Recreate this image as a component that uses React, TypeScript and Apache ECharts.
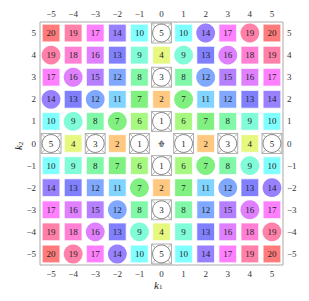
import React, { useEffect, useRef } from "react";
import * as echarts from "echarts";

const k1Values = [-5, -4, -3, -2, -1, 0, 1, 2, 3, 4, 5];
const k2Values = [5, 4, 3, 2, 1, 0, -1, -2, -3, -4, -5];
const tickValues = [-5, -4, -3, -2, -1, 0, 1, 2, 3, 4, 5];

// rows from k2 = 5 down to k2 = -5, columns k1 = -5 .. 5
const cellValues = [
  [20, 19, 17, 14, 10, 5, 10, 14, 17, 19, 20],
  [19, 18, 16, 13, 9, 4, 9, 13, 16, 18, 19],
  [17, 16, 15, 12, 8, 3, 8, 12, 15, 16, 17],
  [14, 13, 12, 11, 7, 2, 7, 11, 12, 13, 14],
  [10, 9, 8, 7, 6, 1, 6, 7, 8, 9, 10],
  [5, 4, 3, 2, 1, 0, 1, 2, 3, 4, 5],
  [10, 9, 8, 7, 6, 1, 6, 7, 8, 9, 10],
  [14, 13, 12, 11, 7, 2, 7, 11, 12, 13, 14],
  [17, 16, 15, 12, 8, 3, 8, 12, 15, 16, 17],
  [19, 18, 16, 13, 9, 4, 9, 13, 16, 18, 19],
  [20, 19, 17, 14, 10, 5, 10, 14, 17, 19, 20],
];

// S = square, C = circle, B = circle in box, N = none
const cellShapes = [
  "SSSSSBSCSCS",
  "CSSSSSCSCSS",
  "SCSSSBSCSSS",
  "CSCSSSCSSSS",
  "SCSCSBSSSSS",
  "BSBSBNBSBSB",
  "SSSSSBSCSCS",
  "SSSSCSSSCSC",
  "SSSCSBSSSCS",
  "SSCSCSSSSSC",
  "SCSCSBSSSSS",
];

// colour for each value 0..20
const valueColors = [
  "#ffffff", "#ffffff", "#ffc880", "#ffffff", "#e6f880", "#ffffff",
  "#a6f880", "#80f080", "#80f8a8", "#80fcd8", "#80ffff",
  "#80d4ff", "#80a8ff", "#8080ff", "#9880ff", "#b480ff",
  "#e080ff", "#ff80ff", "#ff80d4", "#ff80a8", "#ff7a7a",
];

const SERIF = "'Liberation Serif', 'DejaVu Serif', serif";

const fmt = (v: number) => (v < 0 ? "\u2212" + -v : String(v));

export default function App() {
  const ref = useRef<HTMLDivElement>(null);
  useEffect(() => {
    if (!ref.current) return;
    const chart = echarts.init(ref.current, undefined, { renderer: "svg" });
    const data: any[] = [];
    k2Values.forEach((k2, r) => {
      k1Values.forEach((k1, c) => {
        data.push([k1, k2, cellValues[r][c], cellShapes[r][c]]);
      });
    });

    const axisBase = {
      type: "value" as const,
      min: -5.5,
      max: 5.5,
      splitLine: { show: false },
      axisLine: { show: false },
    };
    const labelStyle = {
      fontFamily: SERIF,
      fontSize: 9,
      color: "#333",
      formatter: (v: number) => fmt(v),
      customValues: tickValues,
    };
    const outTick = { show: true, length: 3, lineStyle: { color: "#999", width: 0.8 }, customValues: tickValues };
    const inTick = { show: true, inside: true, length: 3, lineStyle: { color: "#999", width: 0.8 }, customValues: tickValues };

    const xAxes = [
      { ...axisBase, position: "bottom", axisTick: outTick, axisLabel: { ...labelStyle, margin: 4 } },
      { ...axisBase, position: "top", axisTick: outTick, axisLabel: { ...labelStyle, margin: 4 } },
      { ...axisBase, position: "bottom", axisTick: inTick, axisLabel: { show: false } },
      { ...axisBase, position: "top", axisTick: inTick, axisLabel: { show: false } },
    ];
    const yAxes = [
      { ...axisBase, position: "left", axisTick: outTick, axisLabel: { ...labelStyle, margin: 4 } },
      { ...axisBase, position: "right", axisTick: outTick, axisLabel: { ...labelStyle, margin: 4 } },
      { ...axisBase, position: "left", axisTick: inTick, axisLabel: { show: false } },
      { ...axisBase, position: "right", axisTick: inTick, axisLabel: { show: false } },
    ];

    chart.setOption({
      animation: false,
      backgroundColor: "#ffffff",
      grid: {
        left: 40,
        right: 26,
        top: 22,
        bottom: 36,
        show: true,
        borderColor: "#aaaaaa",
        borderWidth: 1,
        backgroundColor: "transparent",
      },
      xAxis: xAxes,
      yAxis: yAxes,
      graphic: [
        {
          type: "text",
          left: 154,
          top: 279,
          style: {
            text: "{k|k}{s|1}",
            rich: {
              k: { fontFamily: SERIF, fontStyle: "italic", fontSize: 11, fill: "#222" },
              s: { fontFamily: SERIF, fontSize: 7, fill: "#222", verticalAlign: "bottom", padding: [5, 0, 0, 0] },
            },
          },
        },
        {
          type: "text",
          x: 12,
          y: 150,
          rotation: Math.PI / 2,
          style: {
            text: "{k|k}{s|2}",
            rich: {
              k: { fontFamily: SERIF, fontStyle: "italic", fontSize: 11, fill: "#222" },
              s: { fontFamily: SERIF, fontSize: 7, fill: "#222", verticalAlign: "bottom", padding: [5, 0, 0, 0] },
            },
          },
        },
      ],
      series: [
        {
          type: "custom",
          xAxisIndex: 0,
          yAxisIndex: 0,
          data,
          renderItem: (params: any, api: any) => {
            const k1 = api.value(0);
            const k2 = api.value(1);
            const v = api.value(2);
            const shape = data[params.dataIndex][3];
            const [cx, cy] = api.coord([k1, k2]);
            const cell = api.size([1, 1]);
            const w = cell[0] * 0.8;
            const color = valueColors[v];
            const children: any[] = [];
            if (shape === "S") {
              children.push({
                type: "rect",
                shape: { x: cx - w / 2, y: cy - w / 2, width: w, height: w },
                style: { fill: color, stroke: "rgba(255,255,255,0.7)", lineWidth: 1 },
              });
            } else if (shape === "C") {
              children.push({
                type: "circle",
                shape: { cx, cy, r: w / 2 + 0.6 },
                style: { fill: color },
              });
            } else if (shape === "B") {
              const h = cell[0] * 0.45;
              children.push({
                type: "rect",
                shape: { x: cx - h, y: cy - h, width: 2 * h, height: 2 * h },
                style: { fill: "none", stroke: "#999", lineWidth: 0.8 },
              });
              children.push({ type: "line", shape: { x1: cx - h, y1: cy - h, x2: cx + h, y2: cy + h }, style: { stroke: "#999", lineWidth: 0.8 } });
              children.push({ type: "line", shape: { x1: cx + h, y1: cy - h, x2: cx - h, y2: cy + h }, style: { stroke: "#999", lineWidth: 0.8 } });
              children.push({
                type: "circle",
                shape: { cx, cy, r: h - 1 },
                style: { fill: "#ffffff", stroke: "#666", lineWidth: 0.8 },
              });
            }
            children.push({
              type: "text",
              x: cx,
              y: cy,
              style: {
                text: String(v),
                x: 0,
                y: 0,
                align: "center",
                verticalAlign: "middle",
                fontFamily: SERIF,
                fontSize: 9,
                fill: "#222",
              },
            });
            return { type: "group", children };
          },
        },
      ],
    });
    return () => chart.dispose();
  }, []);
  return (
    <div
      ref={ref}
      style={{ position: "fixed", left: 0, top: 0, width: 309, height: 301, background: "#fff" }}
    />
  );
}
